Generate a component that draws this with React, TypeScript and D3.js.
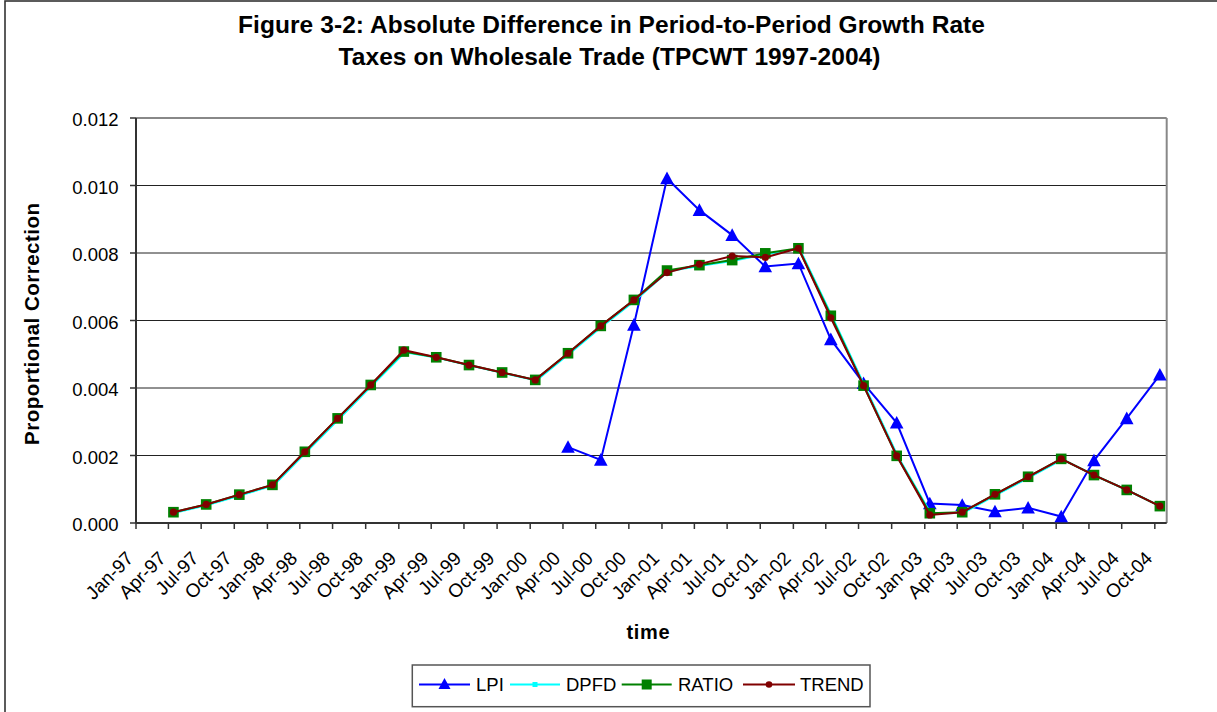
import React from "react";
import * as d3 from "d3";

// ---------- data ----------
const periods = [
  "Apr-97","Jul-97","Oct-97","Jan-98","Apr-98","Jul-98","Oct-98","Jan-99","Apr-99","Jul-99","Oct-99",
  "Jan-00","Apr-00","Jul-00","Oct-00","Jan-01","Apr-01","Jul-01","Oct-01","Jan-02","Apr-02","Jul-02",
  "Oct-02","Jan-03","Apr-03","Jul-03","Oct-03","Jan-04","Apr-04","Jul-04","Oct-04",
];

const lpi: (number | null)[] = [
  null, null, null, null, null, null, null, null, null, null, null, null,
  0.00225, 0.00187, 0.00587, 0.01021, 0.00927, 0.00853, 0.0076, 0.00769, 0.00544, 0.00414,
  0.00297, 0.00058, 0.00053, 0.00034, 0.00045, 0.00019, 0.00185, 0.0031, 0.00439,
];

const ratio: number[] = [
  0.00032, 0.00055, 0.00084, 0.00113, 0.00211, 0.0031, 0.00409, 0.00508, 0.00491, 0.00468, 0.00446,
  0.00424, 0.00503, 0.00584, 0.00661, 0.00748, 0.00764, 0.00779, 0.00799, 0.00814, 0.00614, 0.00407,
  0.00199, 0.00029, 0.00032, 0.00085, 0.00137, 0.0019, 0.00142, 0.00098, 0.0005,
];

const dpfd: number[] = [
  0.00032, 0.00055, 0.00084, 0.00113, 0.00211, 0.0031, 0.00409, 0.00508, 0.00491, 0.00468, 0.00446,
  0.00424, 0.00503, 0.00584, 0.00661, 0.00748, 0.00764, 0.00779, 0.00799, 0.00814, 0.00614, 0.00407,
  0.00199, 0.00029, 0.00032, 0.00085, 0.00137, 0.0019, 0.00142, 0.00098, 0.0005,
];

const trend: number[] = [
  0.00032, 0.00055, 0.00084, 0.00113, 0.00211, 0.0031, 0.00409, 0.00512, 0.00491, 0.00468, 0.00446,
  0.00424, 0.00503, 0.00584, 0.00661, 0.00742, 0.00767, 0.00791, 0.00787, 0.00814, 0.00608, 0.00407,
  0.00199, 0.00024, 0.00032, 0.00085, 0.00137, 0.0019, 0.00142, 0.00098, 0.0005,
];

const yTicks = [0, 0.002, 0.004, 0.006, 0.008, 0.01, 0.012];
const titleLines = [
  "Figure 3-2: Absolute Difference in Period-to-Period Growth Rate",
  "Taxes on Wholesale Trade (TPCWT 1997-2004)",
];
const legendNames = ["LPI", "DPFD", "RATIO", "TREND"];

// ---------- helpers ----------
const monthIdx: Record<string, number> = { Jan: 0, Apr: 3, Jul: 6, Oct: 9 };
const parsePeriod = (p: string) => {
  const [m, y] = p.split("-");
  return new Date(Date.UTC(1900 + (+y < 50 ? 100 : 0) + +y, monthIdx[m], 15));
};

const W = 1217;
const H = 712;
const plot = { left: 136, right: 1166.7, top: 118, bottom: 523 };
const FONT = "'Liberation Sans', Arial, Helvetica, sans-serif";

export default function App() {
  const x = d3
    .scaleUtc()
    .domain([new Date(Date.UTC(1997, 0, 1)), new Date(Date.UTC(2004, 10, 3))])
    .range([plot.left, plot.right]);
  const y = d3.scaleLinear().domain([0, 0.012]).range([plot.bottom, plot.top]);

  const xTicks = d3.utcMonth.every(3)!.range(new Date(Date.UTC(1997, 0, 1)), new Date(Date.UTC(2004, 10, 1)));
  const fmt = d3.utcFormat("%b-%y");
  const dates = periods.map(parsePeriod);

  const mkLine = (vals: (number | null)[]) =>
    d3
      .line<number>()
      .defined((i) => vals[i] !== null)
      .x((i) => x(dates[i]))
      .y((i) => y(vals[i] as number))(d3.range(vals.length)) || "";

  const tri = (cx: number, cy: number, s: number) =>
    `M${cx},${cy - s}L${cx + s},${cy + s * 0.85}L${cx - s},${cy + s * 0.85}Z`;

  const BLUE = "#0000ff";
  const CYAN = "#00ffff";
  const GREEN = "#008000";
  const RED = "#800000";

  const legendItems = [
    { name: legendNames[0], color: BLUE, x0: 419, x1: 470, tx: 476 },
    { name: legendNames[1], color: CYAN, x0: 510, x1: 560, tx: 566 },
    { name: legendNames[2], color: GREEN, x0: 621.7, x1: 671.7, tx: 678 },
    { name: legendNames[3], color: RED, x0: 743, x1: 795, tx: 800 },
  ];
  const ly = 684.5;

  return (
    <svg
      width={W}
      height={H}
      style={{ position: "absolute", left: 0, top: 0, background: "#fff" }}
      fontFamily={FONT}
    >
      <rect x={0} y={0} width={W} height={H} fill="#fff" />
      {/* outer chart border */}
      <rect x={5} y={1} width={1400} height={900} fill="none" stroke="#333" strokeWidth={1.6} />

      {/* title */}
      <text x={611.5} y={32.5} textAnchor="middle" fontSize={24.5} fontWeight="bold" textLength={747}>
        {titleLines[0]}
      </text>
      <text x={609.5} y={64.5} textAnchor="middle" fontSize={24.5} fontWeight="bold" textLength={542}>
        {titleLines[1]}
      </text>

      {/* gridlines */}
      {yTicks.slice(1, -1).map((t) => (
        <line key={t} x1={plot.left} x2={plot.right} y1={y(t)} y2={y(t)} stroke="#222" strokeWidth={1} />
      ))}
      {/* plot frame top/right */}
      <line x1={plot.left} x2={plot.right} y1={plot.top} y2={plot.top} stroke="#888" strokeWidth={2} />
      <line x1={plot.right} x2={plot.right} y1={plot.top} y2={plot.bottom} stroke="#888" strokeWidth={2} />

      {/* y axis */}
      <line x1={plot.left} x2={plot.left} y1={plot.top} y2={plot.bottom} stroke="#333" strokeWidth={2} />
      {yTicks.map((t) => (
        <g key={t}>
          <line x1={plot.left - 6} x2={plot.left} y1={y(t)} y2={y(t)} stroke="#333" strokeWidth={1.5} />
          <text x={118.5} y={y(t) + 8} textAnchor="end" fontSize={18.5} fill="#000">
            {d3.format(".3f")(t)}
          </text>
        </g>
      ))}

      {/* x axis */}
      <line x1={plot.left} x2={plot.right} y1={plot.bottom} y2={plot.bottom} stroke="#333" strokeWidth={2} />
      {xTicks.map((d) => (
        <g key={+d}>
          <line x1={x(d)} x2={x(d)} y1={plot.bottom} y2={plot.bottom + 6} stroke="#333" strokeWidth={1.5} />
          <text
            transform={`translate(${x(d) - 6},${plot.bottom + 32}) rotate(-45)`}
            textAnchor="end"
            dominantBaseline="central"
            fontSize={19}
            fill="#000"
          >
            {fmt(d)}
          </text>
        </g>
      ))}

      {/* axis titles */}
      <text
        transform={`translate(${38.5},${324}) rotate(-90)`}
        textAnchor="middle"
        fontSize={20.5}
        fontWeight="bold"
        textLength={242}
      >
        Proportional Correction
      </text>
      <text x={648} y={639} textAnchor="middle" fontSize={20} fontWeight="bold" textLength={43}>
        time
      </text>

      {/* series: LPI */}
      <path d={mkLine(lpi)} fill="none" stroke={BLUE} strokeWidth={2} />
      {lpi.map((v, i) =>
        v === null ? null : <path key={"l" + i} d={tri(x(dates[i]), y(v), 6.8)} fill={BLUE} />
      )}

      {/* DPFD */}
      <path d={mkLine(dpfd)} fill="none" stroke={CYAN} strokeWidth={2} transform="translate(1.2,0.6)" />
      {dpfd.map((v, i) => (
        <rect key={"d" + i} x={x(dates[i]) - 3 + 1.5} y={y(v) - 3} width={6} height={6} fill={CYAN} />
      ))}

      {/* RATIO */}
      <path d={mkLine(ratio)} fill="none" stroke={GREEN} strokeWidth={2} />
      {ratio.map((v, i) => (
        <rect key={"r" + i} x={x(dates[i]) - 5.3} y={y(v) - 5.3} width={10.6} height={10.6} fill={GREEN} />
      ))}

      {/* TREND */}
      <path d={mkLine(trend)} fill="none" stroke={RED} strokeWidth={2} />
      {trend.map((v, i) => (
        <circle key={"t" + i} cx={x(dates[i])} cy={y(v)} r={3.6} fill={RED} />
      ))}

      {/* legend */}
      <rect x={412.3} y={665} width={457.7} height={41.7} fill="#fff" stroke="#555" strokeWidth={1.5} />
      {legendItems.map((it, k) => {
        const cx = (it.x0 + it.x1) / 2;
        return (
          <g key={it.name}>
            <line x1={it.x0} x2={it.x1} y1={ly} y2={ly} stroke={it.color} strokeWidth={2} />
            {k === 0 && <path d={tri(cx, ly - 0.5, 6)} fill={it.color} />}
            {k === 1 && <rect x={cx - 2.5} y={ly - 2.5} width={5} height={5} fill={it.color} />}
            {k === 2 && <rect x={cx - 5} y={ly - 5} width={10} height={10} fill={it.color} />}
            {k === 3 && <circle cx={cx} cy={ly} r={3.3} fill={it.color} />}
            <text x={it.tx} y={ly + 6.5} fontSize={18.5} fill="#000">
              {it.name}
            </text>
          </g>
        );
      })}
    </svg>
  );
}
